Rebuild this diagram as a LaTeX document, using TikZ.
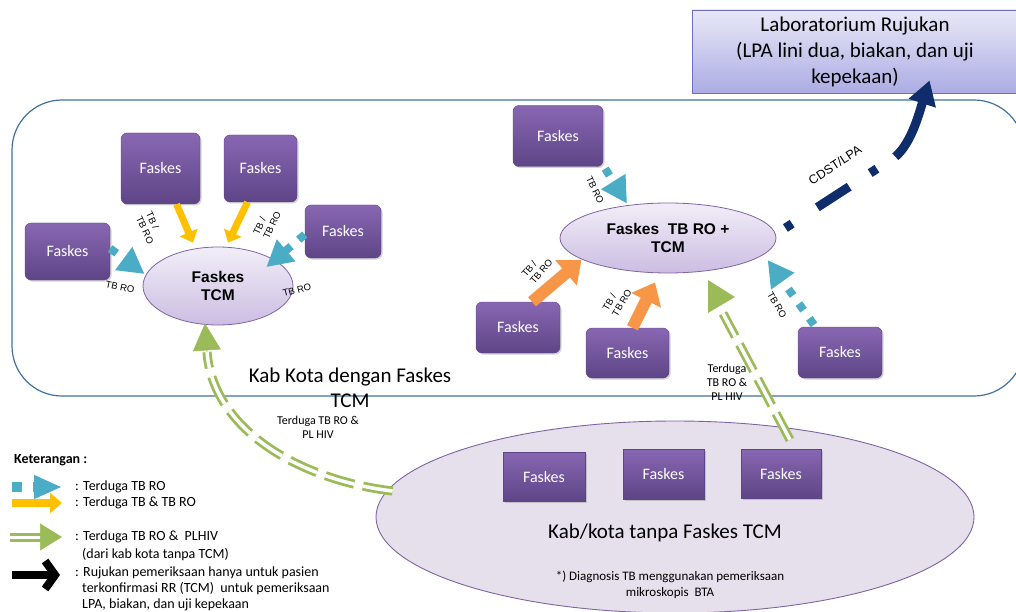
\documentclass[tikz,border=0pt]{standalone}
\usepackage{fontspec}
\setmainfont{Carlito}
\newfontfamily\arialf{Liberation Sans}
\usetikzlibrary{arrows.meta,shapes.geometric,shadows}
\definecolor{boxtop}{HTML}{8867B2}
\definecolor{boxbot}{HTML}{5E4587}
\definecolor{ellline}{HTML}{8064A2}
\definecolor{elltop}{HTML}{F2EEF8}
\definecolor{ellbot}{HTML}{CBBDE2}
\definecolor{bigfill}{HTML}{E5E0EC}
\definecolor{cyanA}{HTML}{4BACC6}
\definecolor{yellowA}{HTML}{FFC000}
\definecolor{orangeA}{HTML}{F79646}
\definecolor{greenA}{HTML}{9BBB59}
\definecolor{navyA}{HTML}{0F2C6B}
\definecolor{labtop}{HTML}{E8E8F8}
\definecolor{labbot}{HTML}{ACACE4}
\definecolor{labline}{HTML}{6E6EC4}
\definecolor{frameline}{HTML}{41719C}
\tikzset{
  faskes/.style={rectangle, rounded corners=6pt, top color=boxtop, bottom color=boxbot,
    draw=boxbot, line width=0.4pt, text=white, font=\fontsize{16}{18}\selectfont, inner sep=0pt,
    drop shadow={opacity=0.35, shadow xshift=1.5pt, shadow yshift=-1.5pt}},
  faskesq/.style={faskes, sharp corners},
  hub/.style={ellipse, draw=ellline, line width=0.8pt, top color=elltop, bottom color=ellbot,
    inner sep=0pt, font=\arialf\bfseries\fontsize{15.5}{18}\selectfont, align=center},
  labbox/.style={rectangle, draw=labline, line width=0.8pt, top color=labtop, bottom color=labbot,
    inner sep=0pt, align=center, font=\fontsize{21}{26}\selectfont},
  lbl/.style={font=\arialf\fontsize{9.5}{11}\selectfont, align=left, inner sep=0pt},
  txt/.style={inner sep=0pt, align=center},
  legtxt/.style={inner sep=0pt, anchor=west, font=\fontsize{14}{16}\selectfont},
  yarrow/.style={draw=yellowA, line width=7pt, -{Triangle[length=11pt,width=19pt]}},
  oarrow/.style={draw=orangeA, line width=12pt, -{Triangle[length=20pt,width=32pt]}},
  carrow/.style={draw=cyanA, line width=8pt, dash pattern=on 8pt off 10pt, -{Triangle[length=26pt,width=27pt]}},
  narrow/.style={draw=navyA, line width=9pt,
    dash pattern=on 8pt off 30pt on 38pt off 25pt on 8pt off 22pt on 500pt,
    -{Triangle[length=24pt,width=27pt]}},
  gshaft/.style={draw=greenA, line width=2.8pt, double=white, double distance=3.5pt,
    dash pattern=on 30pt off 9pt},
  ghead/.style={draw=greenA, fill=greenA, line width=0.5pt, -{Triangle[length=27pt,width=28pt]}},
}
\begin{document}
\begin{tikzpicture}[x=1pt,y=-1pt]
\useasboundingbox (0,0) rectangle (1016,612);
\clip (0,0) rectangle (1016,612);
% region with TCM
\draw[frameline, line width=1.2pt, rounded corners=50pt] (12,100) rectangle (1024,396);
% region without TCM
\node[ellipse, draw=ellline, line width=0.9pt, fill=bigfill, minimum width=598pt, minimum height=192pt, inner sep=0pt] (K) at (675,517) {};
% reference lab
\node[labbox, minimum width=326pt, minimum height=83pt] (Lab) at (855,51.5) {Laboratorium Rujukan\\(LPA lini dua, biakan, dan uji\\kepekaan)};
% hubs
\node[hub, minimum width=150pt, minimum height=78pt] (E1) at (218,286) {Faskes\\TCM};
\node[hub, minimum width=216pt, minimum height=70pt] (E2) at (668,238) {Faskes~ TB RO +\\TCM};
% faskes boxes
\node[faskes, minimum width=85pt, minimum height=57pt] (L1) at (67.5,251.5) {Faskes};
\node[faskes, minimum width=79pt, minimum height=71pt] (L2) at (160.5,168.5) {Faskes};
\node[faskes, minimum width=73pt, minimum height=67pt] (L3) at (260.5,168.5) {Faskes};
\node[faskes, minimum width=76pt, minimum height=53pt] (L4) at (343,231.5) {Faskes};
\node[faskes, minimum width=90pt, minimum height=61pt] (R1) at (558,136) {Faskes};
\node[faskes, minimum width=84pt, minimum height=51pt] (R2) at (518,327.5) {Faskes};
\node[faskes, minimum width=83pt, minimum height=50pt] (R3) at (627.5,353) {Faskes};
\node[faskes, minimum width=84pt, minimum height=51pt] (R4) at (840,352.5) {Faskes};
\node[faskesq, minimum width=82pt, minimum height=49pt] (B1) at (544,476.5) {Faskes};
\node[faskesq, minimum width=81pt, minimum height=50pt] (B2) at (663.5,474) {Faskes};
\node[faskesq, minimum width=80pt, minimum height=49pt] (B3) at (781,473.5) {Faskes};
% yellow arrows
\draw[yarrow] ([shift={(16,0)}]L2.south) -- ([shift={(-25,-4)}]E1.north);
\draw[yarrow] ([shift={(-13,0)}]L3.south) -- ([shift={(10,-4)}]E1.north);
% cyan arrows
\draw[carrow] ([shift={(0,-3)}]L1.east) -- ([shift={(2,-12)}]E1.west);
\draw[carrow] ([shift={(0,3)}]L4.west) -- ([shift={(-5,9)}]E1.north east);
\draw[carrow] ([shift={(2,2)}]R1.south east) -- ([shift={(-41,1)}]E2.north);
\draw[carrow] ([shift={(-26,-2)}]R4.north) -- ([shift={(23,-3)}]E2.south east);
% orange arrows
\draw[oarrow] ([shift={(14,0)}]R2.north) -- ([shift={(-10,-3)}]E2.south west);
\draw[oarrow] ([shift={(5,0)}]R3.north) -- ([shift={(-13,9)}]E2.south);
% navy arrow to lab
\draw[narrow] ([shift={(9,-10)}]E2.east) -- (895,157) .. controls (912,143) and (920,110) .. ([shift={(238,-13)}]Lab.south west);
% green arrows
\draw[gshaft] ([shift={(9,-9)}]B3.north) -- ([shift={(55,40)}]E2.south);
\fill[greenA] (708,280) -- (735,297) -- (708,313) -- cycle;
\draw[gshaft] ([shift={(17,-26)}]K.west) .. controls (300,480) and (213,430) .. (207,352);
\draw[ghead] (207,352) -- ([shift={(-13,-2)}]E1.south);
% small labels
\node[lbl, rotate=-65] at (150,228) {TB /\\TB RO};
\node[lbl, rotate=65] at (267,223) {TB /\\TB RO};
\node[lbl, rotate=-12] at (120,287) {TB RO};
\node[lbl, rotate=15] at (297,290) {TB RO};
\node[lbl, rotate=-65] at (595,190) {TB RO};
\node[lbl, rotate=50] at (537,268) {TB /\\TB RO};
\node[lbl, rotate=60] at (617,300) {TB /\\TB RO};
\node[lbl, rotate=-60] at (777,305) {TB RO};
\node[lbl, font=\arialf\fontsize{12.5}{14}\selectfont, rotate=33] at (835,165) {CDST/LPA};
% texts
\node[txt, font=\fontsize{21}{25}\selectfont] at (350,388) {Kab Kota dengan Faskes\\TCM};
\node[txt, font=\fontsize{12}{14}\selectfont] at (318,427) {Terduga TB RO \&\\PL HIV};
\node[txt, font=\fontsize{12}{14}\selectfont] at (727,382) {Terduga\\TB RO \&\\PL HIV};
\node[txt, font=\fontsize{21}{25}\selectfont] at (665,533) {Kab/kota tanpa Faskes TCM};
\node[txt, font=\fontsize{13}{16}\selectfont] at (670,585) {*) Diagnosis TB menggunakan pemeriksaan\\mikroskopis~ BTA};
% legend
\node[legtxt, font=\bfseries\fontsize{14}{16}\selectfont] at (14,460) {Keterangan :};
\draw[draw=cyanA, line width=10pt, dash pattern=on 10pt off 11pt, -{Triangle[length=28pt,width=22pt]}] (12,487) -- (62,487);
\draw[draw=yellowA, line width=8pt, -{Triangle[length=12pt,width=20pt]}] (12,503) -- (62,503);
\draw[draw=greenA, line width=3pt, double=white, double distance=3pt] (10,537) -- (41,537);
\draw[draw=greenA, fill=greenA, line width=0.5pt, -{Triangle[length=22pt,width=27pt]}] (40,537) -- (62,537);
\draw[black, line width=8pt, -{Straight Barb[length=10pt,width=28pt]}] (12,575) -- (60,575);
\node[legtxt] at (75,487) {: Terduga TB RO};
\node[legtxt] at (75,503) {: Terduga TB \& TB RO};
\node[legtxt] at (75,537) {: Terduga TB RO \&~ PLHIV};
\node[legtxt] at (82,555) {(dari kab kota tanpa TCM)};
\node[legtxt] at (75,573) {: Rujukan pemeriksaan hanya untuk pasien};
\node[legtxt] at (82,589) {terkonfirmasi RR (TCM)~ untuk pemeriksaan};
\node[legtxt] at (82,605) {LPA, biakan, dan uji kepekaan};
\end{tikzpicture}
\end{document}
